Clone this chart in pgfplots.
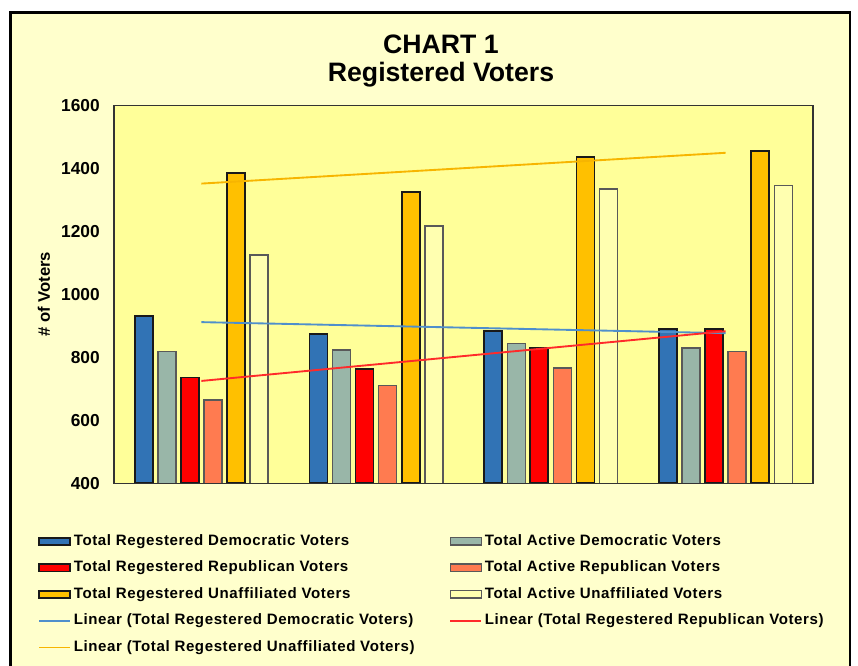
\documentclass[border=0pt]{standalone}
\usepackage{fontspec}
\setmainfont{Liberation Sans}
\newfontfamily\legfont{Liberation Sans}[LetterSpace=4]
\usepackage{pgfplots}
\usepackage{pgfplotstable}
\pgfplotsset{compat=1.18}

\definecolor{outerbg}{HTML}{FFFFCC}
\definecolor{plotbg}{HTML}{FFFF99}
\definecolor{demreg}{HTML}{3173B5}
\definecolor{demact}{HTML}{99B6A8}
\definecolor{repreg}{HTML}{FF0000}
\definecolor{repact}{HTML}{FF7B50}
\definecolor{unreg}{HTML}{FFC000}
\definecolor{unact}{HTML}{FFFFB0}
\definecolor{trdem}{HTML}{4F8FCC}
\definecolor{trrep}{HTML}{FF2A2A}
\definecolor{trun}{HTML}{F7B500}

% registered / active voters per group
\pgfplotstableread{
x demreg demact repreg repact unreg unact
1 931 818 736 665 1385 1125
2 874 823 762 711 1324 1217
3 883 844 829 766 1437 1334
4 889 829 889 819 1456 1345
}\votes

\pgfplotsset{
  barleg/.style={legend image code/.code={\draw[##1] (0pt,-2.75pt) rectangle (23.25pt,2.75pt);}},
  lineleg/.style={legend image code/.code={\draw[draw=#1, line width=1.4pt] (0pt,0pt) -- (23.25pt,0pt);}},
  regbar/.style={fill=#1, draw=black!90, line width=1.3pt, barleg},
  actbar/.style={fill=#1, draw=black!65, line width=1.1pt, barleg},
  trend/.style={sharp plot, no markers, draw=#1, line width=1.4pt, lineleg=#1},
}

\begin{document}
\begin{tikzpicture}
\begin{scope}[x=0.75pt,y=-0.75pt]
\useasboundingbox (0,0) rectangle (858,665);
\fill[white] (0,0) rectangle (858,665);
\begin{scope}
\clip (0,0) rectangle (858,665);
\draw[line width=2.2pt, fill=outerbg] (10.5,12.5) rectangle (850,700);
\end{scope}
\node[font=\fontsize{20}{24}\selectfont\bfseries] at (441,44) {CHART 1};
\node[font=\fontsize{20}{24}\selectfont\bfseries] at (441,75) {Registered Voters};
\end{scope}

\begin{axis}[
  at={(85.5pt,-362.5pt)}, anchor=south west,
  scale only axis, width=524.25pt, height=283.5pt,
  ybar, xmin=0.5, xmax=4.5, ymin=400, ymax=1600,
  xtick=\empty, ytick={400,600,...,1600},
  ytick style={draw=none},
  axis background/.style={fill=plotbg},
  axis line style={draw=black!80, line width=1.1pt},
  axis on top,
  bar width=0.103,
  /pgf/number format/assume math mode=true,
  /pgf/number format/1000 sep={},
  yticklabel style={font=\fontsize{13}{15}\selectfont\bfseries, inner sep=0pt, xshift=-10.5pt},
  ylabel={\# of Voters},
  ylabel style={font=\fontsize{12.5}{14}\selectfont\bfseries, at={(axis description cs:-0.1001,0.5)}, anchor=center},
  legend columns=2,
  legend cell align=left,
  legend style={at={(axis description cs:-0.1087,-0.1315)}, anchor=north west,
    draw=none, fill=none, inner sep=0pt,
    font=\legfont\fontsize{11.3}{13}\selectfont\bfseries,
    row sep=7.9pt,
    nodes={inner xsep=1pt, inner ysep=0pt, text height=9pt, text depth=3pt},
    /tikz/every even column/.append style={column sep=25pt},
    /tikz/every odd column/.append style={column sep=1pt}},
]
\addplot[regbar=demreg, bar shift=-0.33] table[x=x,y=demreg]\votes;
\addplot[actbar=demact, bar shift=-0.198] table[x=x,y=demact]\votes;
\addplot[regbar=repreg, bar shift=-0.066] table[x=x,y=repreg]\votes;
\addplot[actbar=repact, bar shift=0.066] table[x=x,y=repact]\votes;
\addplot[regbar=unreg, bar shift=0.198] table[x=x,y=unreg]\votes;
\addplot[actbar=unact, bar shift=0.33] table[x=x,y=unact]\votes;
\addplot[trend=trdem] table[x=x, y={create col/linear regression={y=demreg}}]\votes;
\addplot[trend=trrep] table[x=x, y={create col/linear regression={y=repreg}}]\votes;
\addplot[trend=trun] table[x=x, y={create col/linear regression={y=unreg}}]\votes;
\legend{Total Regestered Democratic Voters, Total Active Democratic Voters,
  Total Regestered Republican Voters, Total Active Republican Voters,
  Total Regestered Unaffiliated Voters, Total Active Unaffiliated Voters,
  Linear (Total Regestered Democratic Voters), Linear (Total Regestered Republican Voters),
  Linear (Total Regestered Unaffiliated Voters)}
\end{axis}
\end{tikzpicture}
\end{document}
